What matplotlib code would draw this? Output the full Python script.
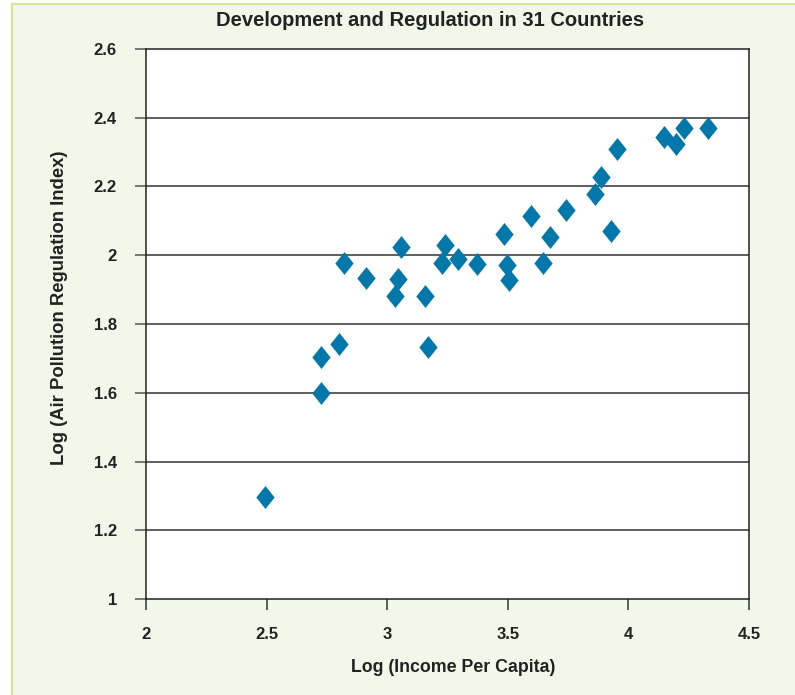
import matplotlib
matplotlib.use("Agg")
import matplotlib.pyplot as plt
from matplotlib.path import Path
from matplotlib.patches import Rectangle

title = "Development and Regulation in 31 Countries"
xlabel = "Log (Income Per Capita)"
ylabel = "Log (Air Pollution Regulation Index)"

income = [2.493, 2.726, 2.726, 2.800, 2.821, 2.912, 3.032, 3.045, 3.057, 3.157,
          3.169, 3.227, 3.240, 3.294, 3.372, 3.484, 3.497, 3.505, 3.596, 3.646,
          3.675, 3.741, 3.862, 3.886, 3.928, 3.953, 4.148, 4.197, 4.230, 4.330]
regulation = [1.297, 1.599, 1.704, 1.742, 1.977, 1.934, 1.881, 1.931, 2.024, 1.881,
              1.733, 1.977, 2.030, 1.989, 1.975, 2.062, 1.972, 1.928, 2.114, 1.977,
              2.053, 2.132, 2.178, 2.228, 2.071, 2.309, 2.344, 2.324, 2.370, 2.370]

xticks = [2, 2.5, 3, 3.5, 4, 4.5]
xticklabels = ["2", "2.5", "3", "3.5", "4", "4.5"]
yticks = [1, 1.2, 1.4, 1.6, 1.8, 2, 2.2, 2.4, 2.6]
yticklabels = ["1", "1.2", "1.4", "1.6", "1.8", "2", "2.2", "2.4", "2.6"]

W, H = 795, 695
fig = plt.figure(figsize=(W / 100, H / 100), dpi=100, facecolor="white")

# background panel with light green border
bg = Rectangle((12 / W, -0.05), 1.0, 1 - 4 / H + 0.05, transform=fig.transFigure,
               facecolor="#F3F7E9", edgecolor="#D3E49E", linewidth=1.6, zorder=-10)
fig.patches.append(bg)

ax = fig.add_axes([146 / W, 1 - 599 / H, (749 - 146) / W, (599 - 49) / H])
ax.set_facecolor("white")

diamond = Path([(0, 1), (0.8, 0), (0, -1), (-0.8, 0), (0, 1)],
               [Path.MOVETO, Path.LINETO, Path.LINETO, Path.LINETO, Path.CLOSEPOLY])
ax.plot(income, regulation, linestyle="none", marker=diamond, markersize=16.5,
        color="#0277A9", markeredgewidth=0, zorder=3)

ax.set_xlim(2, 4.5)
ax.set_ylim(1, 2.6)
ax.set_xticks(xticks)
ax.set_yticks(yticks)

tickfont = dict(family=["Liberation Sans", "DejaVu Sans"], weight="bold", size=12)
ax.set_xticklabels(xticklabels, fontdict=tickfont, color="#222222")
ax.set_yticklabels(yticklabels, fontdict=tickfont, color="#222222")

for y in yticks[1:-1]:
    ax.axhline(y, color="#333333", linewidth=1.1, zorder=1)

for s in ax.spines.values():
    s.set_color("#222222")
    s.set_linewidth(1.1)

ax.tick_params(axis="y", direction="out", length=8, width=1.1, color="#555555", pad=13)
ax.tick_params(axis="x", direction="out", length=8, width=1.1, color="#333333", pad=12)

labfont = dict(family=["Liberation Sans", "DejaVu Sans"],
               weight="bold", color="#222222")
fig.text(430 / W, 1 - 21 / H, title, ha="center", va="center", fontsize=14.5, **labfont)
fig.text(453 / W, 1 - 668 / H, xlabel, ha="center", va="center", fontsize=12.8, **labfont)
fig.text(60 / W, 1 - 308 / H, ylabel, ha="center", va="center", rotation=90,
         fontsize=13.3, **labfont)

fig.savefig("out.png", dpi=100, facecolor=fig.get_facecolor())
